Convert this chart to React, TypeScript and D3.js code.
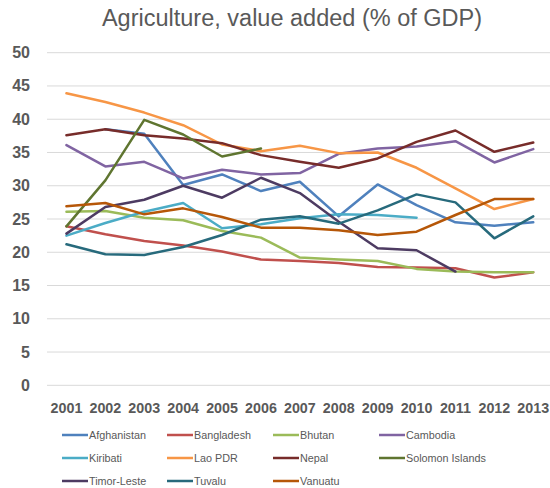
import React from "react";
import * as d3 from "d3";

const years = ["2001","2002","2003","2004","2005","2006","2007","2008","2009","2010","2011","2012","2013"];
const yTicks = [0,5,10,15,20,25,30,35,40,45,50];

const seriesNames = ["Afghanistan","Bangladesh","Bhutan","Cambodia","Kiribati","Lao PDR","Nepal","Solomon Islands","Timor-Leste","Tuvalu","Vanuatu"];
const seriesColors = ["#4F81BD","#C0504D","#9BBB59","#8064A2","#4BACC6","#F79646","#772C2A","#5F7530","#4D3B62","#276A7C","#B65708"];

const afghanistan = [null,38.5,37.8,30.1,31.7,29.2,30.6,25.4,30.2,27.1,24.5,24.0,24.5];
const bangladesh = [23.9,22.7,21.7,21.0,20.1,18.9,18.7,18.4,17.8,17.7,17.6,16.2,17.0];
const bhutan = [26.1,26.2,25.2,24.8,23.2,22.2,19.2,18.9,18.7,17.5,17.1,17.0,17.0];
const cambodia = [36.1,32.9,33.6,31.1,32.4,31.7,31.9,34.8,35.6,35.9,36.7,33.5,35.5];
const kiribati = [22.5,24.4,26.1,27.4,23.6,24.2,25.1,25.7,25.6,25.2,null,null,null];
const laoPDR = [43.9,42.6,41.0,39.1,36.2,35.2,36.0,34.9,35.0,32.7,29.6,26.5,28.0];
const nepal = [37.6,38.5,37.6,37.1,36.4,34.6,33.6,32.7,34.1,36.6,38.3,35.1,36.5];
const solomonIslands = [23.9,30.8,39.9,37.7,34.4,35.6,null,null,null,null,null,null,null];
const timorLeste = [22.8,26.8,27.9,30.0,28.2,31.2,28.9,24.6,20.6,20.3,17.1,null,null];
const tuvalu = [21.2,19.7,19.6,20.8,22.6,24.9,25.4,24.3,26.3,28.7,27.5,22.1,25.4];
const vanuatu = [26.9,27.4,25.7,26.6,25.3,23.7,23.7,23.3,22.6,23.1,25.6,28.0,28.0];

const seriesValues = [afghanistan,bangladesh,bhutan,cambodia,kiribati,laoPDR,nepal,solomonIslands,timorLeste,tuvalu,vanuatu];

const W = 550, H = 488;
const plotLeft = 47, plotRight = 552.7, plotTop = 52.7, plotBottom = 385.3;
const grey = "#595959";
const font = "'Liberation Sans', Arial, sans-serif";

export default function App() {
  const x = d3.scaleBand<string>().domain(years).range([plotLeft, plotRight]);
  const y = d3.scaleLinear().domain([0, 50]).range([plotBottom, plotTop]);
  const cx = (i: number) => (x(years[i]) as number) + x.bandwidth() / 2;
  const line = d3.line<number | null>()
    .defined((d) => d !== null)
    .x((_d, i) => cx(i))
    .y((d) => y(d as number));

  const legendCols = [62, 167, 273, 379];
  const legendRows = [435, 458, 481];

  return (
    <svg width={W} height={H} style={{ position: "absolute", left: 0, top: 0 }} fontFamily={font}>
      <rect width={W} height={H} fill="#fff" />
      <text x={292} y={26} textAnchor="middle" fontSize={23.5} fill={grey}>
        Agriculture, value added (% of GDP)
      </text>
      {yTicks.map((t) => (
        <g key={t}>
          <line x1={plotLeft} x2={W} y1={y(t)} y2={y(t)} stroke="#D9D9D9" strokeWidth={1} />
          <text x={30} y={y(t) + 5.5} textAnchor="end" fontSize={16} fontWeight="bold" fill={grey}>{t}</text>
        </g>
      ))}
      {years.map((yr, i) => (
        <text key={yr} x={cx(i)} y={413} textAnchor="middle" fontSize={14.3} fontWeight="bold" fill={grey}>{yr}</text>
      ))}
      {seriesValues.map((vals, s) => (
        <path key={seriesNames[s]} d={line(vals) || ""} fill="none" stroke={seriesColors[s]} strokeWidth={2.5} strokeLinejoin="round" strokeLinecap="round" />
      ))}
      {seriesNames.map((name, s) => {
        const col = legendCols[s % 4];
        const row = legendRows[Math.floor(s / 4)];
        return (
          <g key={name}>
            <line x1={col} x2={col + 26} y1={row} y2={row} stroke={seriesColors[s]} strokeWidth={2.5} />
            <text x={col + 27} y={row + 4} fontSize={10.8} fill={grey}>{name}</text>
          </g>
        );
      })}
    </svg>
  );
}
